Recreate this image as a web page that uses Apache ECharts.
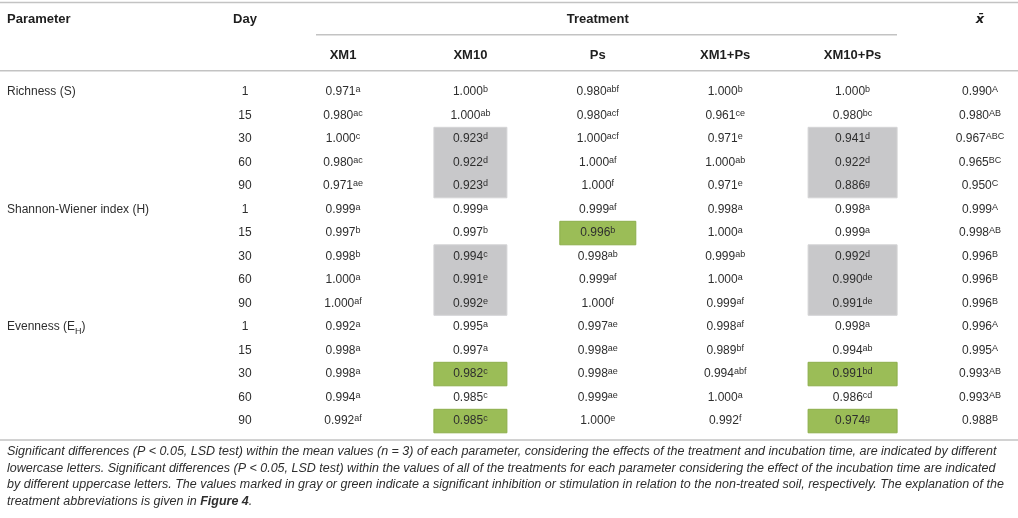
<!DOCTYPE html>
<html><head><meta charset="utf-8">
<script src="https://cdn.jsdelivr.net/npm/echarts@6/dist/echarts.min.js"></script>
<style>html,body{margin:0;padding:0;background:#fff}#c{width:1018px;height:518px}</style>
</head><body><div id="c"></div>
<script>
// ---------- data ----------
const columns = ['XM1', 'XM10', 'Ps', 'XM1+Ps', 'XM10+Ps', 'x\u0304'];
const columnHeaders = ['XM1', 'XM10', 'Ps', 'XM1+Ps', 'XM10+Ps', ''];
const topHeaders = ['', '', 'Treatment', '', '', 'x\u0304'];
const parameters = ['Richness (S)', 'Shannon-Wiener index (H)', 'Evenness (E{sub|H})'];
const days = [1, 15, 30, 60, 90];

const xm1 = [0.971, 0.980, 1.000, 0.980, 0.971, 0.999, 0.997, 0.998, 1.000, 1.000, 0.992, 0.998, 0.998, 0.994, 0.992];
const xm1Sig = ['a', 'ac', 'c', 'ac', 'ae', 'a', 'b', 'b', 'a', 'af', 'a', 'a', 'a', 'a', 'af'];
const xm10 = [1.000, 1.000, 0.923, 0.922, 0.923, 0.999, 0.997, 0.994, 0.991, 0.992, 0.995, 0.997, 0.982, 0.985, 0.985];
const xm10Sig = ['b', 'ab', 'd', 'd', 'd', 'a', 'b', 'c', 'e', 'e', 'a', 'a', 'c', 'c', 'c'];
const ps = [0.980, 0.980, 1.000, 1.000, 1.000, 0.999, 0.996, 0.998, 0.999, 1.000, 0.997, 0.998, 0.998, 0.999, 1.000];
const psSig = ['abf', 'acf', 'acf', 'af', 'f', 'af', 'b', 'ab', 'af', 'f', 'ae', 'ae', 'ae', 'ae', 'e'];
const xm1ps = [1.000, 0.961, 0.971, 1.000, 0.971, 0.998, 1.000, 0.999, 1.000, 0.999, 0.998, 0.989, 0.994, 1.000, 0.992];
const xm1psSig = ['b', 'ce', 'e', 'ab', 'e', 'a', 'a', 'ab', 'a', 'af', 'af', 'bf', 'abf', 'a', 'f'];
const xm10ps = [1.000, 0.980, 0.941, 0.922, 0.886, 0.998, 0.999, 0.992, 0.990, 0.991, 0.998, 0.994, 0.991, 0.986, 0.974];
const xm10psSig = ['b', 'bc', 'd', 'd', 'g', 'a', 'a', 'd', 'de', 'de', 'a', 'ab', 'bd', 'cd', 'g'];
const mean = [0.990, 0.980, 0.967, 0.965, 0.950, 0.999, 0.998, 0.996, 0.996, 0.996, 0.996, 0.995, 0.993, 0.993, 0.988];
const meanSig = ['A', 'AB', 'ABC', 'BC', 'C', 'A', 'AB', 'B', 'B', 'B', 'A', 'A', 'AB', 'AB', 'B'];

// shaded cells: [column, first row, last row]
const grayCells = [['XM10', 2, 4], ['XM10+Ps', 2, 4], ['XM10', 7, 9], ['XM10+Ps', 7, 9]];
const greenCells = [['Ps', 6, 6], ['XM10', 12, 12], ['XM10+Ps', 12, 12], ['XM10', 14, 14], ['XM10+Ps', 14, 14]];

const footnote = [
  'Significant differences (P < 0.05, LSD test) within the mean values (n = 3) of each parameter, considering the effects of the treatment and incubation time, are indicated by different',
  'lowercase letters. Significant differences (P < 0.05, LSD test) within the values of all of the treatments for each parameter considering the effect of the incubation time are indicated',
  'by different uppercase letters. The values marked in gray or green indicate a significant inhibition or stimulation in relation to the non-treated soil, respectively. The explanation of the',
  'treatment abbreviations is given in {b|Figure 4}.'
];

// ---------- build ----------
const valueCols = [[xm1, xm1Sig], [xm10, xm10Sig], [ps, psSig], [xm1ps, xm1psSig], [xm10ps, xm10psSig], [mean, meanSig]];
const rowDays = [];
parameters.forEach(() => days.forEach(d => rowDays.push(String(d))));
const paramOfRow = (i) => (i % days.length === 0 ? parameters[i / days.length] : '');

const FONT = 'Liberation Sans';
const TXT = '#2e2e2e';
const HEAD = '#1e1e1e';
const RULE = '#c3c3c3';
const boxWidth = { 'XM10': 73, 'Ps': 76, 'XM10+Ps': 89 };

const colIdx = (name) => columns.indexOf(name);

function boxSeries(cells, fill, stroke) {
  return {
    type: 'custom', silent: true, z: 1,
    xAxisIndex: 0, yAxisIndex: 0,
    data: cells.map(c => [colIdx(c[0]), c[1], c[2]]),
    encode: { x: 0, y: [1, 2] },
    renderItem(params, api) {
      const c = api.value(0), r0 = api.value(1), r1 = api.value(2);
      const p0 = api.coord([c, r0]);
      const p1 = api.coord([c, r1]);
      const bh = api.size([0, 1])[1];
      const w = boxWidth[columns[c]];
      return {
        type: 'rect',
        shape: { x: p0[0] - w / 2, y: p0[1] - bh / 2, width: w, height: p1[1] - p0[1] + bh },
        style: { fill: fill, stroke: stroke, lineWidth: 1 }
      };
    }
  };
}

const textSeries = valueCols.map((pair, c) => ({
  type: 'scatter', silent: true, z: 5,
  xAxisIndex: 0, yAxisIndex: 0,
  symbolSize: 0,
  itemStyle: { opacity: 1 },
  data: pair[0].map((v, i) => [c, i]),
  label: {
    show: true, position: 'inside', opacity: 1,
    formatter: (p) => '{v|' + pair[0][p.dataIndex].toFixed(3) + '}{s|' + pair[1][p.dataIndex] + '}',
    rich: {
      v: { fontFamily: FONT, fontSize: 12, color: TXT, lineHeight: 14 },
      s: { fontFamily: FONT, fontSize: 9, color: TXT, lineHeight: 6, verticalAlign: 'top' }
    }
  }
}));

const chart = echarts.init(document.getElementById('c'), null, { renderer: 'canvas' });
chart.setOption({
  backgroundColor: '#ffffff',
  animation: false,
  grid: { left: 343, right: 38, top: 80.3, height: 352.5 },
  xAxis: [{
    type: 'category', position: 'top', data: columnHeaders, boundaryGap: false,
    axisLine: { show: false }, axisTick: { show: false }, splitLine: { show: false },
    axisLabel: { interval: 0, margin: 25, verticalAlign: 'middle', fontFamily: FONT, fontSize: 13, fontWeight: 'bold', color: HEAD }
  }, {
    type: 'category', position: 'top', data: topHeaders, boundaryGap: false,
    axisLine: { show: false }, axisTick: { show: false }, splitLine: { show: false },
    axisLabel: {
      interval: 0, margin: 61, verticalAlign: 'middle', fontFamily: FONT, fontSize: 13, fontWeight: 'bold', color: HEAD,
      formatter: (v) => (v === 'x\u0304' ? '{m|' + v + '}' : v),
      rich: { m: { fontFamily: 'DejaVu Sans', fontSize: 13, fontWeight: 'bold', fontStyle: 'italic', color: HEAD } }
    }
  }],
  yAxis: [{
    type: 'category', inverse: true, data: rowDays,
    axisLine: { show: false }, axisTick: { show: false }, splitLine: { show: false },
    axisLabel: { interval: 0, margin: 98, align: 'center', fontFamily: FONT, fontSize: 12, color: TXT }
  }, {
    type: 'category', inverse: true, data: rowDays, position: 'left',
    axisLine: { show: false }, axisTick: { show: false }, splitLine: { show: false },
    axisLabel: {
      interval: 0, margin: 336, align: 'left', fontFamily: FONT, fontSize: 12, color: TXT,
      formatter: (v, i) => paramOfRow(i),
      rich: { sub: { fontFamily: FONT, fontSize: 9, color: TXT, verticalAlign: 'bottom', lineHeight: 9, padding: [0, 0, -3, 0] } }
    }
  }],
  series: [boxSeries(grayCells, '#c8c8ca', '#d4d4d6'), boxSeries(greenCells, '#9bbd57', '#8cae4a')].concat(textSeries),
  graphic: [
    { type: 'line', shape: { x1: 0, y1: 2.5, x2: 1018, y2: 2.5 }, style: { stroke: RULE, lineWidth: 1.5 } },
    { type: 'line', shape: { x1: 316, y1: 34.7, x2: 897, y2: 34.7 }, style: { stroke: RULE, lineWidth: 1.5 } },
    { type: 'line', shape: { x1: 0, y1: 70.7, x2: 1018, y2: 70.7 }, style: { stroke: RULE, lineWidth: 1.5 } },
    { type: 'line', shape: { x1: 0, y1: 440, x2: 1018, y2: 440 }, style: { stroke: RULE, lineWidth: 1.5 } },
    { type: 'text', x: 7, y: 19.3, style: { text: 'Parameter', fontFamily: FONT, fontSize: 13, fontWeight: 'bold', fill: HEAD, verticalAlign: 'middle' } },
    { type: 'text', x: 245, y: 19.3, style: { text: 'Day', fontFamily: FONT, fontSize: 13, fontWeight: 'bold', fill: HEAD, align: 'center', verticalAlign: 'middle' } },
    {
      type: 'text', x: 7, y: 443.4,
      style: {
        text: footnote.join('\n'), fontFamily: FONT, fontSize: 12.5, fontStyle: 'italic', fill: TXT,
        lineHeight: 16.6,
        rich: { b: { fontFamily: FONT, fontSize: 12.5, fontStyle: 'italic', fontWeight: 'bold', fill: TXT, lineHeight: 16.6 } }
      }
    }
  ]
});
</script></body></html>
